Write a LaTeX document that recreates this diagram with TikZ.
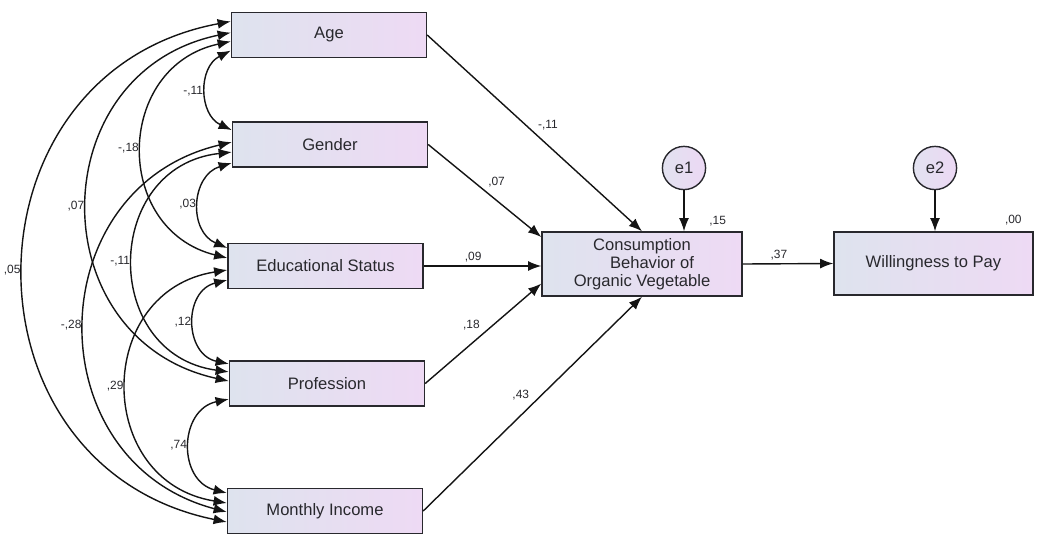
\documentclass[tikz,border=0pt]{standalone}
\usepackage{fontspec}
\setmainfont{Liberation Sans}
\usetikzlibrary{arrows.meta}
\definecolor{boxleft}{RGB}{222,227,238}
\definecolor{boxright}{RGB}{238,218,244}
\definecolor{errleft}{RGB}{226,226,240}
\definecolor{errright}{RGB}{236,216,244}
\definecolor{ink}{RGB}{40,40,45}
\definecolor{wire}{RGB}{20,20,20}

\begin{document}
\begin{tikzpicture}[>={Latex[length=3.3mm,width=2.5mm]},
  var/.style={draw=ink, line width=1pt, left color=boxleft, right color=boxright, text=ink,
    minimum width=4.875cm, minimum height=1.125cm, font=\fontsize{11.8}{13}\selectfont},
  err/.style={circle, draw=ink, line width=1pt, left color=errleft, right color=errright, text=ink,
    minimum size=1.08cm, inner sep=0pt, font=\fontsize{11.8}{13}\selectfont},
  coef/.style={text=ink, inner sep=2pt, font=\fontsize{8.5}{10}\selectfont},
  path/.style={->, line width=1pt, draw=wire},
  cov/.style 2 args={<->, line width=1pt, draw=wire, bend right=#1, looseness=#2}]
\useasboundingbox (0,0) rectangle (25.925,-13.475);
% observed variables
\node[var] (age) at (8.225,-0.875) {Age};
\node[var] (gender) at (8.25,-3.6125) {Gender};
\node[var] (edu) at (8.1375,-6.65) {Educational Status};
\node[var] (prof) at (8.175,-9.5875) {Profession};
\node[var] (income) at (8.125,-12.775) {Monthly Income};
\node[var, minimum width=5cm, minimum height=1.6cm, align=center] (cons) at (16.05,-6.6) {Consumption\\\hspace*{1.2em}Behavior of\\Organic Vegetable};
\node[var, minimum width=4.975cm, minimum height=1.575cm] (wtp) at (23.3375,-6.5875) {Willingness to Pay};
\node[err] (e1) at (17.1,-4.2) {e1};
\node[err] (e2) at (23.375,-4.2) {e2};
% regression paths
\draw[path] (age.east) -- (cons.north) node[coef, pos=0.5, above right] {-,11};
\draw[path] (gender.east) -- (cons.165) node[coef, pos=0.5, above right] {,07};
\draw[path] (edu.east) -- (edu.east -| cons.west) node[coef, pos=0.42, above] {,09};
\draw[path] (prof.east) -- (cons.191) node[coef, pos=0.5, above left] {,18};
\draw[path] (income.east) -- (cons.south) node[coef, pos=0.5, above left] {,43};
\draw[path] (cons.east) -- (wtp.west) node[coef, pos=0.4, above] {,37};
\draw[path] (e1) -- (e1 |- cons.north);
\draw[path] (e2) -- (e2 |- wtp.north);
\node[coef] (rsq1) at ([xshift=-6.25mm, yshift=2.5mm]cons.north east) {,15};
\node[coef] (rsq2) at ([xshift=-5.1mm, yshift=2.75mm]wtp.north east) {,00};
% covariances
\draw[cov={64}{1.18}] ([yshift=-3.9mm]age.west) to node[coef, left] {-,11} ([yshift=3.6mm]gender.west);
\draw[cov={70}{1.28}] ([yshift=-4.6mm]gender.west) to node[coef, left] {,03} ([yshift=4.5mm]edu.west);
\draw[cov={77}{1.39}] ([yshift=-3.5mm]edu.west) to node[coef, left] {,12} ([yshift=4.9mm]prof.west);
\draw[cov={77}{1.39}] ([yshift=-3.9mm]prof.west) to node[coef, left] {,74} ([yshift=4.5mm]income.west);
\draw[cov={77}{1.40}] ([yshift=-1.6mm]age.west) to node[coef, left] {-,18} ([yshift=2mm]edu.west);
\draw[cov={83}{1.51}] ([yshift=-1.9mm]gender.west) to node[coef, left] {-,11} ([yshift=2.9mm]prof.west);
\draw[cov={81}{1.48}] ([yshift=-1mm]edu.west) to node[coef, left] {,29} ([yshift=2mm]income.west);
\draw[cov={78}{1.42}] ([yshift=0.6mm]age.west) to node[coef, left] {,07} ([yshift=0.6mm]prof.west);
\draw[cov={76}{1.37}] ([yshift=0.6mm]gender.west) to node[coef, left] {-,28} ([yshift=-0.25mm]income.west);
\draw[cov={79}{1.42}] ([yshift=3.4mm]age.west) to node[coef, left] {,05} ([yshift=-2.75mm]income.west);
\end{tikzpicture}
\end{document}
